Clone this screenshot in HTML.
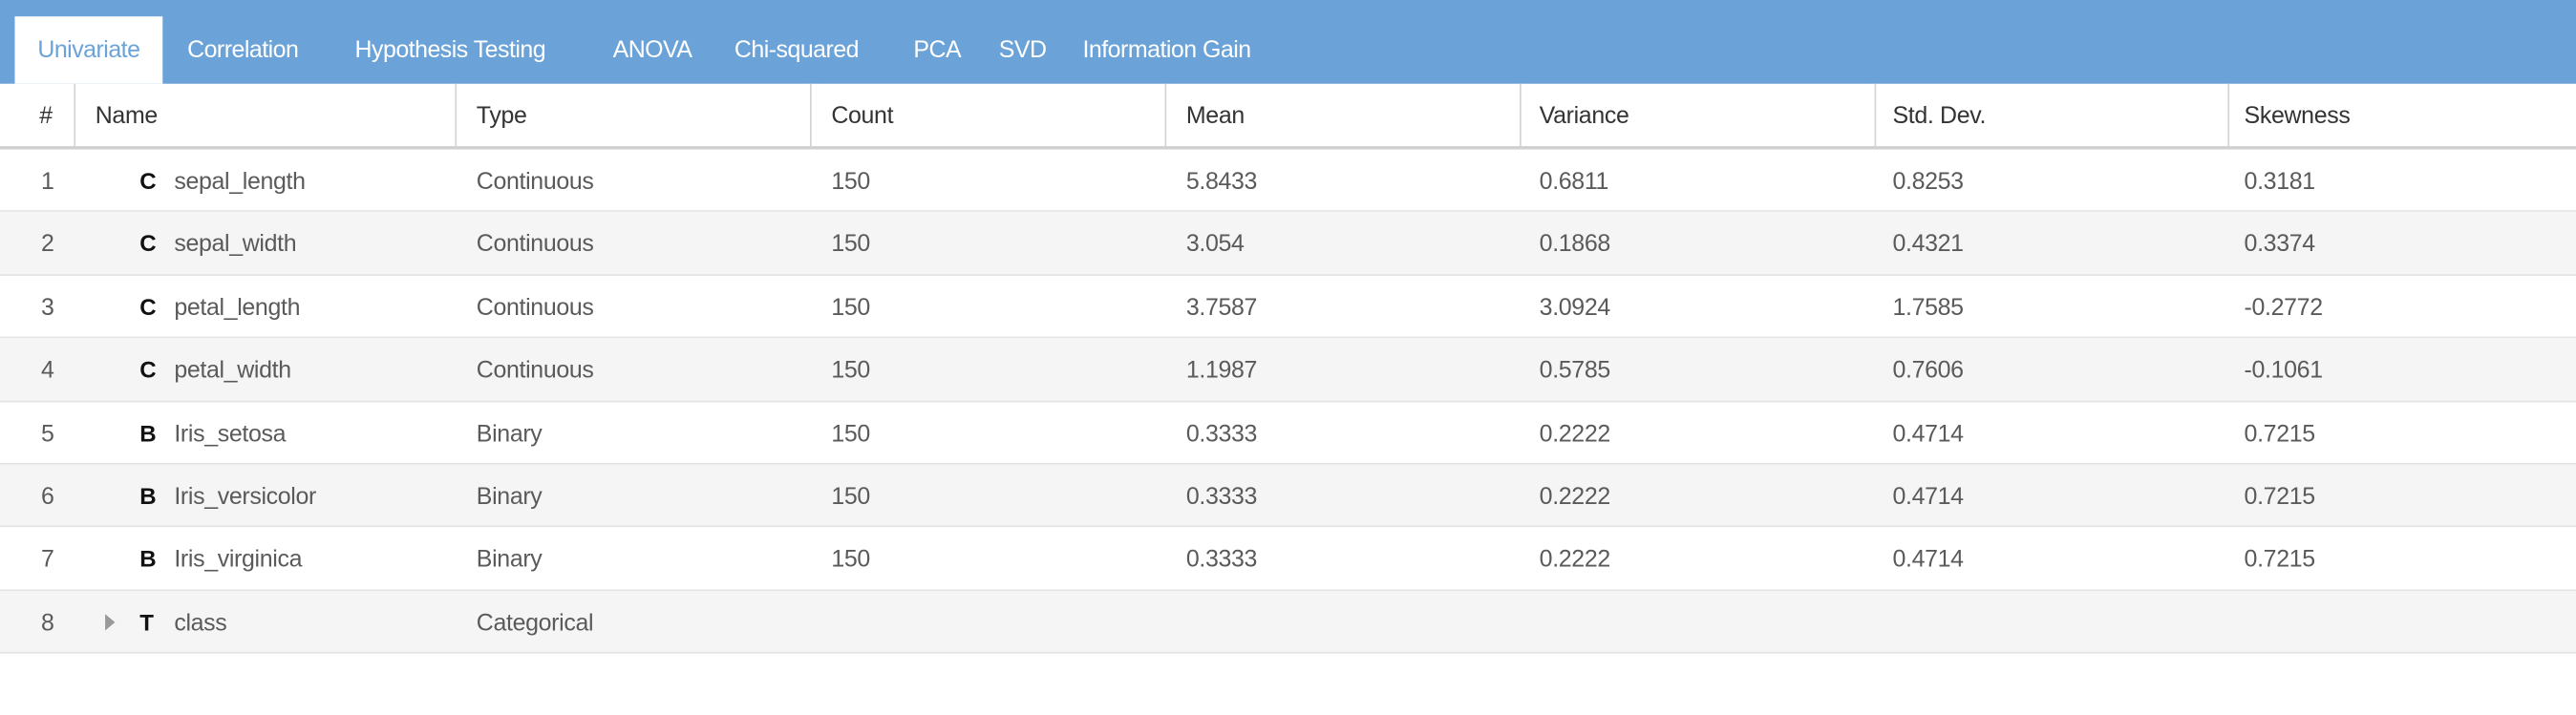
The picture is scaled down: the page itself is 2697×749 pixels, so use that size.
<!DOCTYPE html>
<html><head><meta charset="utf-8"><style>
html,body{margin:0;padding:0;background:#fff;overflow:hidden}
#wrap{width:1568px;height:436px;transform:scale(1.72003);transform-origin:0 0;position:relative;font-family:"Liberation Sans",sans-serif;color:#444}
#bar{position:absolute;left:0;top:0;width:1568px;height:51px;background:#6ba3d8}
.tab{position:absolute;top:10px;height:41px;line-height:43px;color:#fff;font-size:14.5px;letter-spacing:-0.3px}
.tab.active{background:#fff;color:#6ba3d8;left:9px;width:90px;text-align:center}
.hc{position:absolute;top:51px;height:38px;line-height:41px;font-size:14.5px;color:#333;letter-spacing:-0.2px}
.vd{position:absolute;top:51px;width:1px;height:38px;background:#d4d4d4}
#thick{position:absolute;left:0;top:89px;width:1568px;height:2px;background:#d0d0d0}
.row{position:absolute;left:0;width:1568px;height:37.4px;border-bottom:1px solid #e4e4e4}
.row.alt{background:#f5f5f5}
.c{position:absolute;top:0;line-height:40px;font-size:14.5px;color:#5a5a5a;letter-spacing:-0.2px}
.ic{position:absolute;top:0;line-height:39px;font-size:14px;font-weight:bold;color:#111;left:85px}
</style></head><body>
<div id="wrap">
<div id="bar">
<div class="tab active">Univariate</div>
<div class="tab" style="left:114px">Correlation</div>
<div class="tab" style="left:216px">Hypothesis Testing</div>
<div class="tab" style="left:373px">ANOVA</div>
<div class="tab" style="left:447px">Chi-squared</div>
<div class="tab" style="left:556px">PCA</div>
<div class="tab" style="left:608px">SVD</div>
<div class="tab" style="left:659px">Information Gain</div>
</div>
<div class="hc" style="left:24px">#</div>
<div class="hc" style="left:58px">Name</div>
<div class="hc" style="left:290px">Type</div>
<div class="hc" style="left:506px">Count</div>
<div class="hc" style="left:722px">Mean</div>
<div class="hc" style="left:937px">Variance</div>
<div class="hc" style="left:1152px">Std. Dev.</div>
<div class="hc" style="left:1366px">Skewness</div>
<div class="vd" style="left:45px"></div><div class="vd" style="left:277px"></div><div class="vd" style="left:493px"></div><div class="vd" style="left:709px"></div><div class="vd" style="left:925px"></div><div class="vd" style="left:1141px"></div><div class="vd" style="left:1356px"></div>
<div id="thick"></div>
<div id="rows"></div>
</div>
<script>
const names=["sepal_length","sepal_width","petal_length","petal_width","Iris_setosa","Iris_versicolor","Iris_virginica","class"];
const icons=["C","C","C","C","B","B","B","T"];
const types=["Continuous","Continuous","Continuous","Continuous","Binary","Binary","Binary","Categorical"];
const counts=["150","150","150","150","150","150","150",""];
const means=["5.8433","3.054","3.7587","1.1987","0.3333","0.3333","0.3333",""];
const variances=["0.6811","0.1868","3.0924","0.5785","0.2222","0.2222","0.2222",""];
const stds=["0.8253","0.4321","1.7585","0.7606","0.4714","0.4714","0.4714",""];
const skews=["0.3181","0.3374","-0.2772","-0.1061","0.7215","0.7215","0.7215",""];
const rows=document.getElementById('rows');
names.forEach((n,i)=>{
 const r=document.createElement('div');
 r.className='row'+(i%2?' alt':'');
 r.style.top=(91+i*38.4)+'px';
 
 
 const cells=[[String(i+1),25,'index'],[n,106,'name'],[types[i],290,'type'],[counts[i],506,'count'],[means[i],722,'mean'],[variances[i],937,'variance'],[stds[i],1152,'std-dev'],[skews[i],1366,'skewness']];
 cells.forEach(c=>{const d=document.createElement('div');d.className='c';d.style.left=c[1]+'px';d.textContent=c[0];
  
  
  r.appendChild(d);});
 const ic=document.createElement('div');ic.className='ic';ic.textContent=icons[i];
 
 
 r.appendChild(ic);
 if(icons[i]==='T'){const t=document.createElement('div');t.style.cssText='position:absolute;left:64px;top:14px;width:0;height:0;border-top:5px solid transparent;border-bottom:5px solid transparent;border-left:6px solid #999';
  
  
  r.appendChild(t);}
 rows.appendChild(r);
});
</script>
</body></html>
